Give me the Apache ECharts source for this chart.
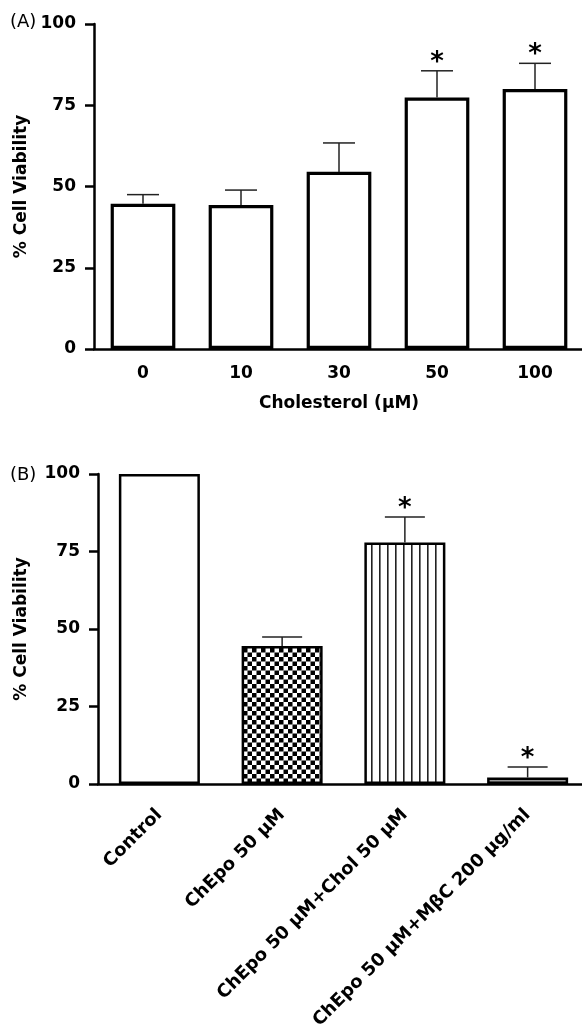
<!DOCTYPE html>
<html>
<head>
<meta charset="utf-8">
<script src="https://cdn.jsdelivr.net/npm/echarts/dist/echarts.min.js"></script>
<style>
  body { margin: 0; background: #fff; }
  #chart { width: 582px; height: 1028px; }
</style>
</head>
<body>
<div id="chart"></div>
<script>
// panel A: cholesterol dose
var cholCats = ['0', '10', '30', '50', '100'];
var cholMeans = [44.7, 44.3, 54.5, 77.4, 80.0];
var cholErr = [2.8, 4.6, 8.9, 8.2, 7.9];
var cholSig = [0, 0, 0, 1, 1];

// panel B: treatments
var treatCats = ['Control', 'ChEpo 50 \u03bcM', 'ChEpo 50 \u03bcM+Chol 50 \u03bcM', 'ChEpo 50 \u03bcM+M\u03b2C 200 \u03bcg/ml'];
var treatMeans = [100, 44.5, 77.9, 2.1];
var treatErr = [0, 2.9, 8.2, 3.4];
var treatSig = [0, 0, 1, 1];

var yTicks = [0, 25, 50, 75, 100];

var FONT = 'DejaVu Sans';

function makeChecker() {
    var c = document.createElement('canvas');
    c.width = 9; c.height = 9;
    var g = c.getContext('2d');
    g.fillStyle = '#fff';
    g.fillRect(0, 0, 9, 9);
    g.fillStyle = '#000';
    g.fillRect(0, 0, 4.5, 4.5);
    g.fillRect(4.5, 4.5, 4.5, 4.5);
    return c;
}

function makeStripes() {
    var c = document.createElement('canvas');
    c.width = 8; c.height = 8;
    var g = c.getContext('2d');
    g.fillStyle = '#fff';
    g.fillRect(0, 0, 8, 8);
    g.fillStyle = '#222';
    g.fillRect(3, 0, 1.6, 8);
    return c;
}

var fillsB = [
    '#fff',
    { image: makeChecker(), repeat: 'repeat' },
    { image: makeStripes(), repeat: 'repeat' },
    '#9a9a9a'
];

function errData(means, errs, sig) {
    var out = [];
    for (var i = 0; i < means.length; i++) {
        out.push([i, means[i], errs[i], sig[i]]);
    }
    return out;
}

function errRender(capW) {
    return function (params, api) {
        var i = api.value(0), v = api.value(1), e = api.value(2), s = api.value(3);
        var p0 = api.coord([i, v]);
        var p1 = api.coord([i, v + e]);
        var kids = [];
        if (e > 0) {
            kids.push({
                type: 'line',
                shape: { x1: p0[0], y1: p0[1], x2: p1[0], y2: p1[1] },
                style: { stroke: '#222', lineWidth: 1.5 }
            });
            kids.push({
                type: 'line',
                shape: { x1: p1[0] - capW / 2, y1: p1[1], x2: p1[0] + capW / 2, y2: p1[1] },
                style: { stroke: '#222', lineWidth: 1.5 }
            });
        }
        if (s) {
            kids.push({
                type: 'text',
                x: p1[0], y: p1[1] + 5,
                style: {
                    text: '*', fontSize: 26, fontWeight: 'bold', fontFamily: FONT,
                    fill: '#000', align: 'center', verticalAlign: 'bottom'
                }
            });
        }
        return { type: 'group', children: kids };
    };
}

function yAxisFor(gridIdx, gap) {
    return {
        type: 'value', gridIndex: gridIdx,
        min: yTicks[0], max: yTicks[yTicks.length - 1], interval: 25,
        name: '% Cell Viability', nameLocation: 'middle', nameGap: gap, nameRotate: 90,
        nameTextStyle: { fontFamily: FONT, fontWeight: 'bold', fontSize: 17, color: '#000' },
        axisLine: { show: true, lineStyle: { color: '#000', width: 2.5 } },
        axisTick: { show: true, length: 9, lineStyle: { color: '#000', width: 2.5 } },
        axisLabel: { margin: 18, fontFamily: FONT, fontWeight: 'bold', fontSize: 17, color: '#000' },
        splitLine: { show: false }
    };
}

var chart = echarts.init(document.getElementById('chart'));

var option = {
    animation: false,
    backgroundColor: '#fff',
    grid: [
        { left: 94, top: 24, width: 490, height: 325, outerBoundsMode: 'none', containLabel: false },
        { left: 98, top: 474, width: 491, height: 310, outerBoundsMode: 'none', containLabel: false }
    ],
    xAxis: [
        {
            type: 'category', gridIndex: 0, data: cholCats,
            name: 'Cholesterol (\u03bcM)', nameLocation: 'middle', nameGap: 46,
            nameTextStyle: { fontFamily: FONT, fontWeight: 'bold', fontSize: 17, color: '#000' },
            axisLine: { lineStyle: { color: '#000', width: 2.5 } },
            axisTick: { alignWithLabel: true, length: 10, lineStyle: { color: '#000', width: 2.5 } },
            axisLabel: { interval: 0, margin: 16, fontFamily: FONT, fontWeight: 'bold', fontSize: 17, color: '#000' }
        },
        {
            type: 'category', gridIndex: 1, data: treatCats,
            axisLine: { lineStyle: { color: '#000', width: 2.5 } },
            axisTick: { alignWithLabel: true, length: 12, lineStyle: { color: '#000', width: 2.5 } },
            axisLabel: { interval: 0, rotate: 45, margin: 28, fontFamily: FONT, fontWeight: 'bold', fontSize: 18, color: '#000' }
        }
    ],
    yAxis: [yAxisFor(0, 63), yAxisFor(1, 68)],
    graphic: [
        { type: 'text', left: 10, top: 13, style: { text: '(A)', fontFamily: FONT, fontSize: 18, fill: '#000' } },
        { type: 'text', left: 10, top: 466, style: { text: '(B)', fontFamily: FONT, fontSize: 18, fill: '#000' } }
    ],
    series: [
        {
            type: 'bar', xAxisIndex: 0, yAxisIndex: 0, data: cholMeans, barWidth: '66%',
            itemStyle: { color: '#fff', borderColor: '#000', borderWidth: 3.2 }
        },
        {
            type: 'custom', xAxisIndex: 0, yAxisIndex: 0, z: 5,
            data: errData(cholMeans, cholErr, cholSig), renderItem: errRender(32)
        },
        {
            type: 'bar', xAxisIndex: 1, yAxisIndex: 1, barWidth: '66%',
            data: treatMeans.map(function (v, i) {
                return { value: v, itemStyle: { color: fillsB[i] } };
            }),
            itemStyle: { borderColor: '#000', borderWidth: 2.5 }
        },
        {
            type: 'custom', xAxisIndex: 1, yAxisIndex: 1, z: 5,
            data: errData(treatMeans, treatErr, treatSig), renderItem: errRender(40)
        }
    ]
};

chart.setOption(option);
</script>
</body>
</html>
